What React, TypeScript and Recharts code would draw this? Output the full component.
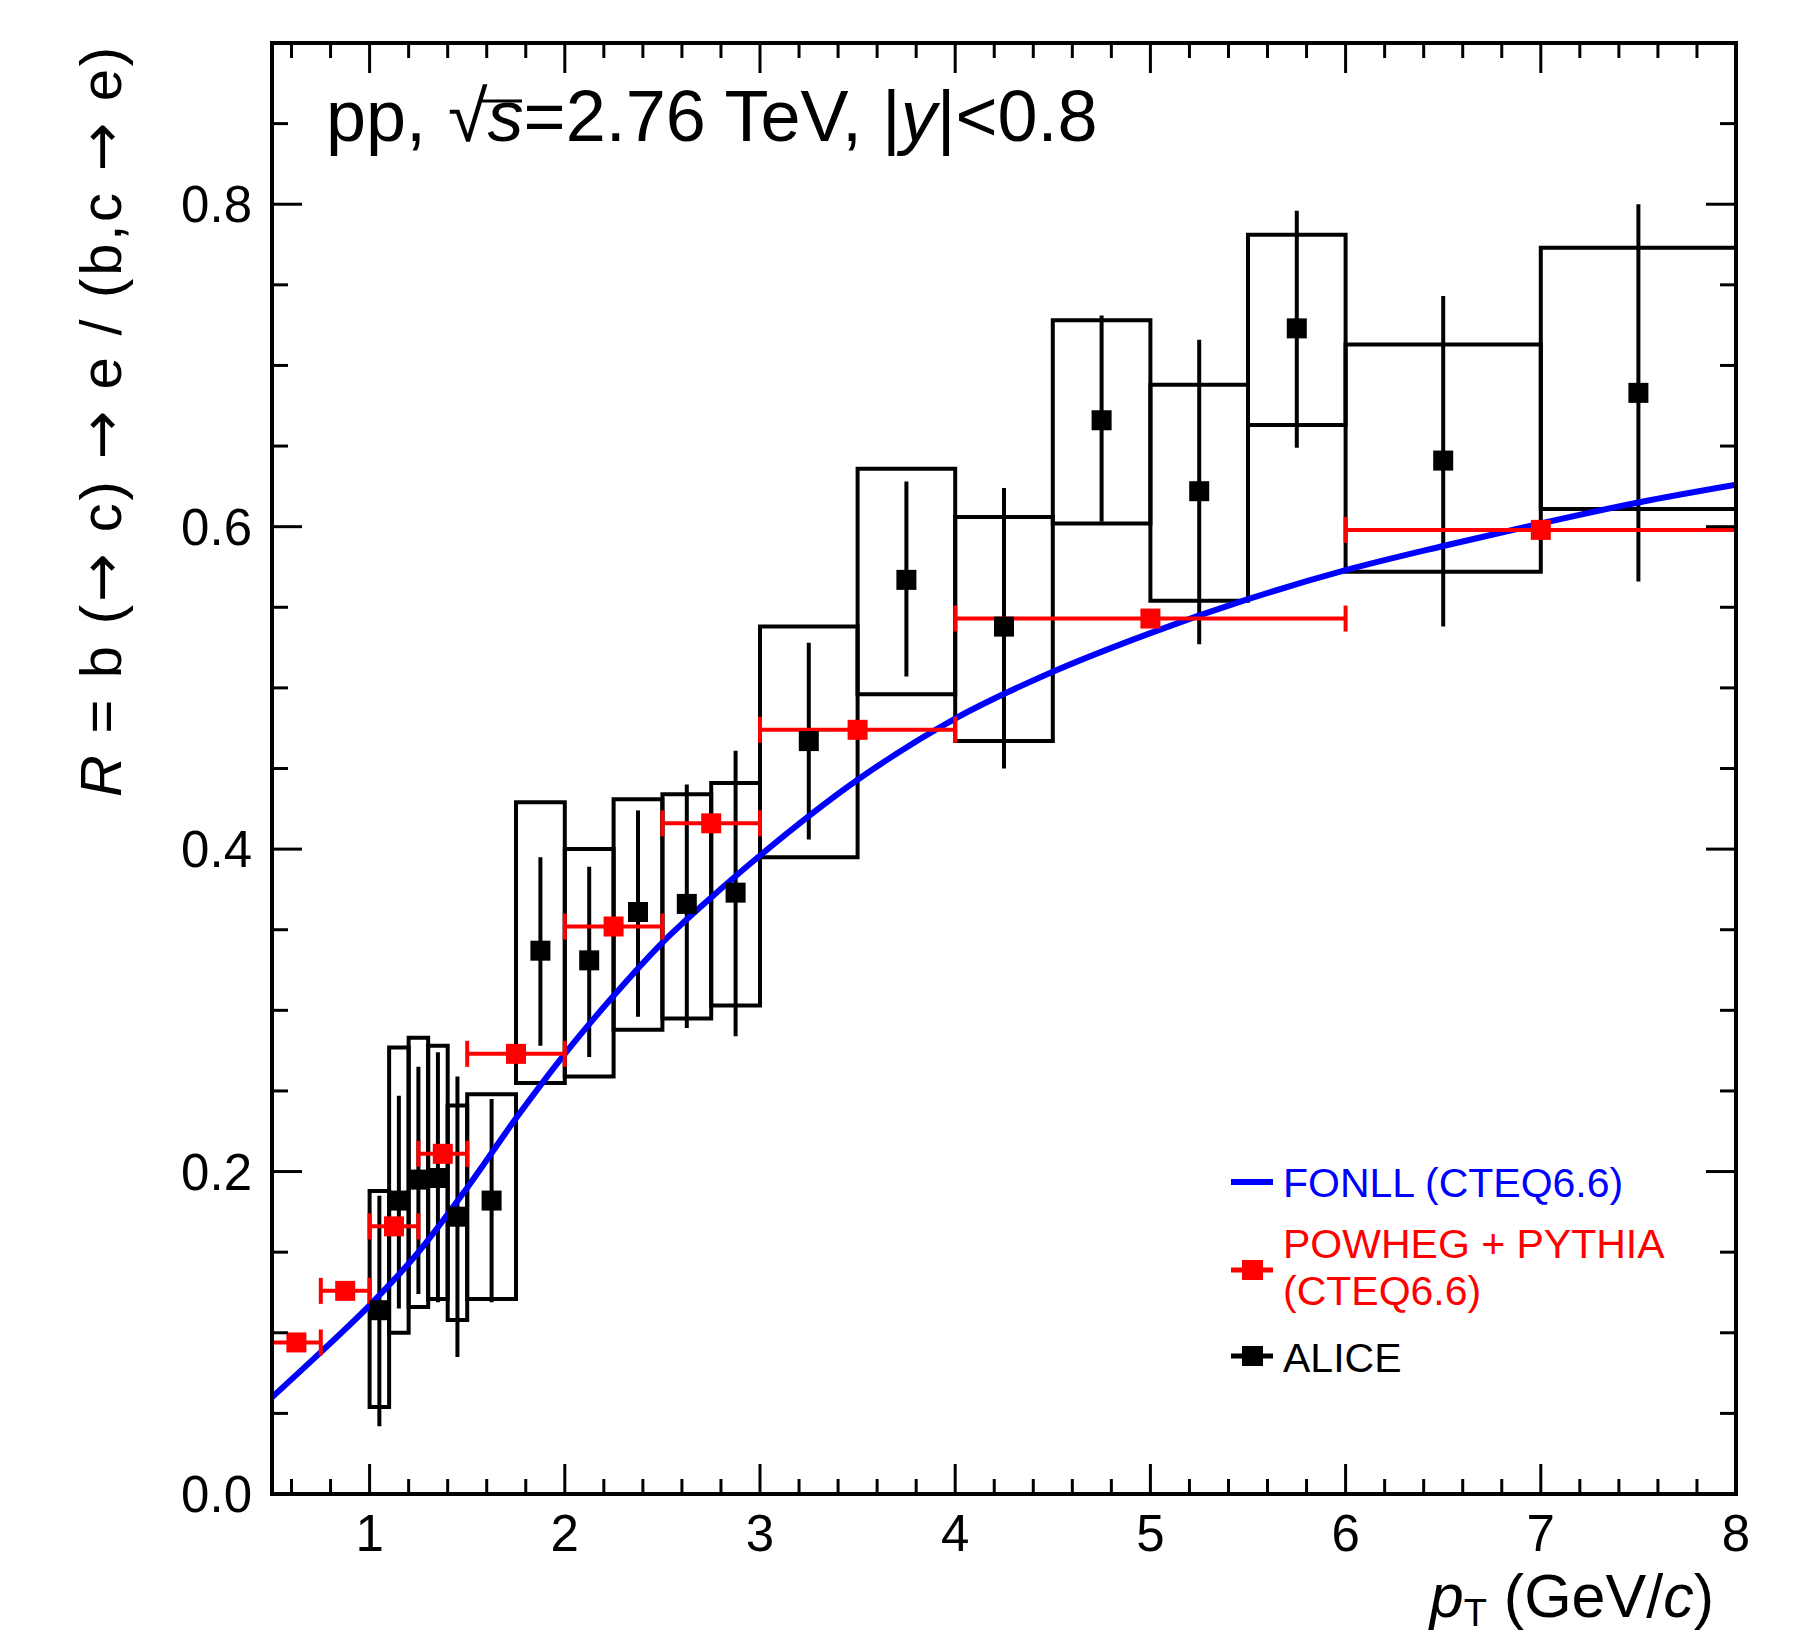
import { ComposedChart, XAxis, YAxis, Line, Scatter, ErrorBar, ReferenceArea } from "recharts";

const FONT = '"Liberation Sans", Arial, Helvetica, sans-serif';
const ARROW_FONT = '"DejaVu Sans", sans-serif';

// ALICE measurement: bin edges, value, stat error ends, systematic box ends
const aliceX = [1.05, 1.15, 1.25, 1.35, 1.45, 1.625, 1.875, 2.125, 2.375, 2.625, 2.875, 3.25, 3.75, 4.25, 4.75, 5.25, 5.75, 6.5, 7.5];
const aliceBinLo = [1.0, 1.1, 1.2, 1.3, 1.4, 1.5, 1.75, 2.0, 2.25, 2.5, 2.75, 3.0, 3.5, 4.0, 4.5, 5.0, 5.5, 6.0, 7.0];
const aliceBinHi = [1.1, 1.2, 1.3, 1.4, 1.5, 1.75, 2.0, 2.25, 2.5, 2.75, 3.0, 3.5, 4.0, 4.5, 5.0, 5.5, 6.0, 7.0, 8.0];
const aliceR = [0.114, 0.182, 0.195, 0.196, 0.172, 0.182, 0.337, 0.331, 0.361, 0.366, 0.373, 0.467, 0.567, 0.538, 0.666, 0.622, 0.723, 0.641, 0.683];
const aliceStatLo = [0.042, 0.115, 0.124, 0.119, 0.085, 0.119, 0.278, 0.271, 0.296, 0.289, 0.284, 0.406, 0.507, 0.450, 0.603, 0.527, 0.649, 0.538, 0.566];
const aliceStatHi = [0.185, 0.247, 0.265, 0.274, 0.259, 0.245, 0.395, 0.389, 0.424, 0.440, 0.461, 0.528, 0.628, 0.624, 0.731, 0.716, 0.796, 0.743, 0.800];
const aliceSysLo = [0.054, 0.100, 0.116, 0.121, 0.108, 0.121, 0.255, 0.259, 0.288, 0.295, 0.303, 0.395, 0.496, 0.467, 0.602, 0.554, 0.663, 0.572, 0.611];
const aliceSysHi = [0.188, 0.277, 0.283, 0.278, 0.241, 0.248, 0.429, 0.400, 0.431, 0.434, 0.441, 0.538, 0.636, 0.606, 0.728, 0.688, 0.781, 0.713, 0.773];

// POWHEG + PYTHIA (CTEQ6.6)
const powhegX = [0.625, 0.875, 1.125, 1.375, 1.75, 2.25, 2.75, 3.5, 5.0, 7.0];
const powhegBinLo = [0.5, 0.75, 1.0, 1.25, 1.5, 2.0, 2.5, 3.0, 4.0, 6.0];
const powhegBinHi = [0.75, 1.0, 1.25, 1.5, 2.0, 2.5, 3.0, 4.0, 6.0, 8.0];
const powhegR = [0.094, 0.126, 0.166, 0.211, 0.273, 0.352, 0.416, 0.474, 0.543, 0.598];

// FONLL (CTEQ6.6) curve
const fonllX = [0.5, 0.75, 1.0, 1.25, 1.5, 1.75, 2.0, 2.25, 2.5, 2.75, 3.0, 3.5, 4.0, 4.5, 5.0, 5.5, 6.0, 6.5, 7.0, 7.5, 8.0];
const fonllR = [0.060, 0.088, 0.117, 0.150, 0.190, 0.233, 0.273, 0.309, 0.342, 0.370, 0.396, 0.443, 0.481, 0.510, 0.534, 0.555, 0.573, 0.588, 0.602, 0.615, 0.626];

// axis ticks
const xMajor = [1, 2, 3, 4, 5, 6, 7, 8];
const xTicks = [0.6, 0.8, 1, 1.2, 1.4, 1.6, 1.8, 2, 2.2, 2.4, 2.6, 2.8, 3, 3.2, 3.4, 3.6, 3.8, 4, 4.2, 4.4, 4.6, 4.8, 5, 5.2, 5.4, 5.6, 5.8, 6, 6.2, 6.4, 6.6, 6.8, 7, 7.2, 7.4, 7.6, 7.8, 8];
const yMajor = [0, 0.2, 0.4, 0.6, 0.8];
const yTicks = [0, 0.05, 0.1, 0.15, 0.2, 0.25, 0.3, 0.35, 0.4, 0.45, 0.5, 0.55, 0.6, 0.65, 0.7, 0.75, 0.8, 0.85];

const aliceData = aliceX.map((x, i) => ({
  x,
  y: aliceR[i],
  err: [aliceR[i] - aliceStatLo[i], aliceStatHi[i] - aliceR[i]],
}));
const powhegData = powhegX.map((x, i) => ({
  x,
  y: powhegR[i],
  xerr: [x - powhegBinLo[i], powhegBinHi[i] - x],
}));
const fonllData = fonllX.map((x, i) => ({ x, y: fonllR[i] }));

const near = (list: number[], v: number) => list.some((m) => Math.abs(m - v) < 1e-6);

function BottomTick(props: any) {
  const { x, y, payload } = props;
  const major = near(xMajor, payload.value);
  return (
    <g>
      <line x1={x} x2={x} y1={y} y2={y - (major ? 30 : 15)} stroke="#000" strokeWidth={3} />
      {major ? (
        <text x={x} y={y + 57} textAnchor="middle" fontSize={51} fontFamily={FONT} fill="#000">
          {payload.value}
        </text>
      ) : null}
    </g>
  );
}

function TopTick(props: any) {
  const { x, y, payload } = props;
  const major = near(xMajor, payload.value);
  return <line x1={x} x2={x} y1={y} y2={y + (major ? 30 : 15)} stroke="#000" strokeWidth={3} />;
}

function LeftTick(props: any) {
  const { x, y, payload } = props;
  const major = near(yMajor, payload.value);
  return (
    <g>
      <line x1={x} x2={x + (major ? 30 : 16)} y1={y} y2={y} stroke="#000" strokeWidth={3} />
      {major ? (
        <text x={x - 20} y={y + 18} textAnchor="end" fontSize={51} fontFamily={FONT} fill="#000">
          {payload.value.toFixed(1)}
        </text>
      ) : null}
    </g>
  );
}

function RightTick(props: any) {
  const { x, y, payload } = props;
  const major = near(yMajor, payload.value);
  return <line x1={x} x2={x - (major ? 30 : 16)} y1={y} y2={y} stroke="#000" strokeWidth={3} />;
}

const square = (color: string) => (p: any) => (
  <rect x={p.cx - 10} y={p.cy - 10} width={20} height={20} fill={color} />
);

const frame = { stroke: "#000", strokeWidth: 4, strokeLinecap: "square" as const };

export default function App() {
  return (
    <div style={{ position: "absolute", left: 0, top: 0, width: 1812, height: 1635, background: "#fff" }}>
      <ComposedChart width={1812} height={1635} margin={{ top: 42, right: 75, bottom: 81, left: 172 }}>
        <XAxis
          dataKey="x"
          type="number"
          domain={[0.5, 8]}
          allowDataOverflow
          ticks={xTicks}
          interval={0}
          height={60}
          tickSize={0}
          tickMargin={0}
          tickLine={false}
          axisLine={frame}
          tick={<BottomTick />}
        />
        <XAxis
          xAxisId="top"
          orientation="top"
          dataKey="x"
          type="number"
          domain={[0.5, 8]}
          allowDataOverflow
          ticks={xTicks}
          interval={0}
          height={1}
          tickSize={0}
          tickMargin={0}
          tickLine={false}
          axisLine={frame}
          tick={<TopTick />}
        />
        <YAxis
          type="number"
          domain={[0, 0.9]}
          allowDataOverflow
          ticks={yTicks}
          interval={0}
          width={100}
          tickSize={0}
          tickMargin={0}
          tickLine={false}
          axisLine={frame}
          tick={<LeftTick />}
        />
        <YAxis
          yAxisId="right"
          orientation="right"
          type="number"
          domain={[0, 0.9]}
          allowDataOverflow
          ticks={yTicks}
          interval={0}
          width={1}
          tickSize={0}
          tickMargin={0}
          tickLine={false}
          axisLine={frame}
          tick={<RightTick />}
        />

        {aliceX.map((_, i) => (
          <ReferenceArea
            key={i}
            x1={aliceBinLo[i]}
            x2={aliceBinHi[i]}
            y1={aliceSysLo[i]}
            y2={aliceSysHi[i]}
            fill="none"
            fillOpacity={0}
            stroke="#000"
            strokeWidth={4}
            ifOverflow="visible"
          />
        ))}

        <Scatter data={aliceData} dataKey="y" shape={square("#000")} isAnimationActive={false}>
          <ErrorBar dataKey="err" direction="y" width={0} stroke="#000" strokeWidth={4} isAnimationActive={false} />
        </Scatter>

        <Line
          data={fonllData}
          dataKey="y"
          type="monotone"
          stroke="#0000ff"
          strokeWidth={6}
          dot={false}
          activeDot={false}
          isAnimationActive={false}
        />

        <Scatter data={powhegData} dataKey="y" shape={square("#ff0000")} isAnimationActive={false}>
          <ErrorBar dataKey="xerr" direction="x" width={13} stroke="#ff0000" strokeWidth={4} isAnimationActive={false} />
        </Scatter>
      </ComposedChart>

      <svg
        width={1812}
        height={1635}
        style={{ position: "absolute", left: 0, top: 0, pointerEvents: "none" }}
        fontFamily={FONT}
      >
        <text x={326} y={141} fontSize={72} fill="#000">
          pp,
          <tspan dx={22}>√</tspan>
          <tspan fontStyle="italic">s</tspan>
          =2.76 TeV, |<tspan fontStyle="italic">y</tspan>|&lt;0.8
        </text>
        {/* radical bar over s */}
        <line x1={482} x2={522} y1={101} y2={101} stroke="#000" strokeWidth={3} />

        <text
          x={121}
          y={422}
          fontSize={58}
          fill="#000"
          textAnchor="middle"
          textLength={750}
          lengthAdjust="spacing"
          transform="rotate(-90 121 422)"
        >
          <tspan fontStyle="italic">R</tspan> = b (<tspan fontFamily={ARROW_FONT}>→</tspan> c){" "}
          <tspan fontFamily={ARROW_FONT}>→</tspan> e / (b,c <tspan fontFamily={ARROW_FONT}>→</tspan> e)
        </text>

        <text x={1714} y={1617} fontSize={61} fill="#000" textAnchor="end">
          <tspan fontStyle="italic">p</tspan>
          <tspan fontSize={38} dy={9}>T</tspan>
          <tspan dy={-9}> (GeV/</tspan>
          <tspan fontStyle="italic">c</tspan>)
        </text>

        <line x1={1231} x2={1273} y1={1182} y2={1182} stroke="#0000ff" strokeWidth={6} />
        <text x={1283} y={1197} fontSize={41} fill="#0000ff">FONLL (CTEQ6.6)</text>

        <line x1={1231} x2={1273} y1={1270} y2={1270} stroke="#ff0000" strokeWidth={5} />
        <rect x={1242} y={1260} width={21} height={20} fill="#ff0000" />
        <text x={1283} y={1258} fontSize={41} fill="#ff0000">POWHEG + PYTHIA</text>
        <text x={1283} y={1305} fontSize={41} fill="#ff0000">(CTEQ6.6)</text>

        <line x1={1231} x2={1273} y1={1356} y2={1356} stroke="#000" strokeWidth={5} />
        <rect x={1242} y={1346} width={21} height={20} fill="#000" />
        <text x={1283} y={1372} fontSize={41} fill="#000">ALICE</text>
      </svg>
    </div>
  );
}
